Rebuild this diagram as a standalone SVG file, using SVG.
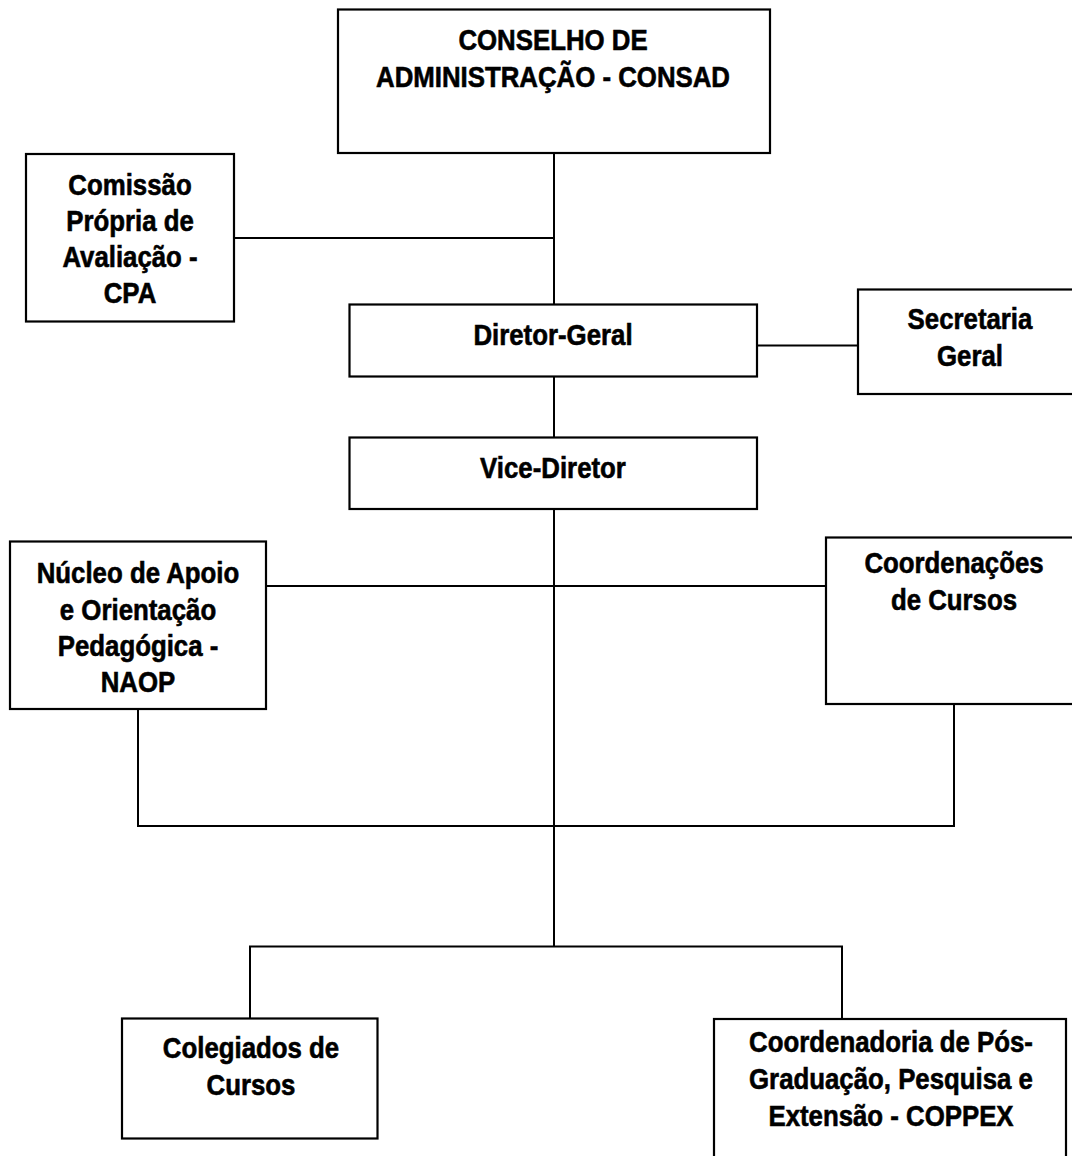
<svg xmlns="http://www.w3.org/2000/svg" width="1072" height="1156" viewBox="0 0 1072 1156">
<style>
.box{fill:#fff;stroke:#000;stroke-width:2.2}
.ln{fill:none;stroke:#000;stroke-width:2}
.t{font-family:"Liberation Sans",Arial,sans-serif;font-weight:bold;font-size:29px;fill:#000;stroke:#000;stroke-width:0.6;text-anchor:middle}
</style>
<rect width="1072" height="1156" fill="#fff"/>
<g id="connectors">
<path class="ln" d="M554 153V305"/>
<path class="ln" d="M234 238H554"/>
<path class="ln" d="M757 345.5H858"/>
<path class="ln" d="M554 376.5V437.5"/>
<path class="ln" d="M554 509V946.5"/>
<path class="ln" d="M266 586H826"/>
<path class="ln" d="M138 709V826H954V704"/>
<path class="ln" d="M250 1018V946.5H842V1019"/>
</g>
<g id="consad">
<rect class="box" x="338" y="9.5" width="432" height="143.5"/>
<text class="t" transform="translate(553,0) scale(0.89,1)"><tspan x="0" y="50">CONSELHO DE</tspan><tspan x="0" y="87">ADMINISTRAÇÃO - CONSAD</tspan></text>
</g>
<g id="cpa">
<rect class="box" x="26" y="154" width="208" height="167.5"/>
<text class="t" transform="translate(130,0) scale(0.89,1)"><tspan x="0" y="195">Comissão</tspan><tspan x="0" y="231.5">Própria de</tspan><tspan x="0" y="267.5">Avaliação -</tspan><tspan x="0" y="303.5">CPA</tspan></text>
</g>
<g id="diretor-geral">
<rect class="box" x="349.5" y="304.5" width="407.5" height="72"/>
<text class="t" transform="translate(553,0) scale(0.89,1)"><tspan x="0" y="345">Diretor-Geral</tspan></text>
</g>
<g id="secretaria">
<rect class="box" x="858" y="289.5" width="224" height="104.5"/>
<text class="t" transform="translate(970,0) scale(0.89,1)"><tspan x="0" y="329">Secretaria</tspan><tspan x="0" y="366">Geral</tspan></text>
</g>
<g id="vice-diretor">
<rect class="box" x="349.5" y="437.5" width="407.5" height="71.5"/>
<text class="t" transform="translate(553,0) scale(0.89,1)"><tspan x="0" y="478">Vice-Diretor</tspan></text>
</g>
<g id="naop">
<rect class="box" x="10" y="541.5" width="256" height="167.5"/>
<text class="t" transform="translate(138,0) scale(0.89,1)"><tspan x="0" y="583">Núcleo de Apoio</tspan><tspan x="0" y="620">e Orientação</tspan><tspan x="0" y="656">Pedagógica -</tspan><tspan x="0" y="692">NAOP</tspan></text>
</g>
<g id="coordenacoes">
<rect class="box" x="826" y="537.5" width="256" height="166.5"/>
<text class="t" transform="translate(954,0) scale(0.89,1)"><tspan x="0" y="573">Coordenações</tspan><tspan x="0" y="610">de Cursos</tspan></text>
</g>
<g id="colegiados">
<rect class="box" x="122" y="1018.5" width="255.5" height="120"/>
<text class="t" transform="translate(251,0) scale(0.89,1)"><tspan x="0" y="1058">Colegiados de</tspan><tspan x="0" y="1095">Cursos</tspan></text>
</g>
<g id="coppex">
<rect class="box" x="714" y="1019" width="352" height="150"/>
<text class="t" transform="translate(891,0) scale(0.89,1)"><tspan x="0" y="1052">Coordenadoria de Pós-</tspan><tspan x="0" y="1089">Graduação, Pesquisa e</tspan><tspan x="0" y="1126">Extensão - COPPEX</tspan></text>
</g>
</svg>
